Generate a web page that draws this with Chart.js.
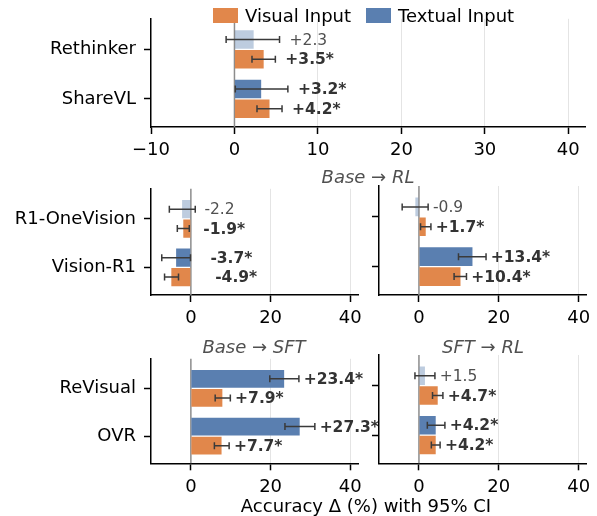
<!DOCTYPE html>
<html>
<head>
<meta charset="utf-8">
<script src="https://cdn.jsdelivr.net/npm/chart.js@4.4.1/dist/chart.umd.min.js"></script>
<style>
  body { margin: 0; background: #fff; }
  #fig { position: relative; width: 597px; height: 516px; overflow: hidden; font-family: "DejaVu Sans", sans-serif; }
  canvas { position: absolute; }
  .txt { position: absolute; white-space: nowrap; line-height: 1; transform: translate(-50%, -50%); font-size: 18px; }
  .ttl { color: #505050; font-style: oblique; }
  .patch { position: absolute; width: 25px; height: 15px; }
  .leg { position: absolute; white-space: nowrap; line-height: 1; font-size: 18px; transform: translateY(-50%); }
</style>
</head>
<body>
<div id="fig">
  <canvas id="cTop" width="597" height="165" style="left:0px;top:0px"></canvas>
  <canvas id="cMidL" width="380" height="165" style="left:0px;top:170px"></canvas>
  <canvas id="cMidR" width="232" height="165" style="left:365px;top:170px"></canvas>
  <canvas id="cBotL" width="380" height="165" style="left:0px;top:340px"></canvas>
  <canvas id="cBotR" width="232" height="165" style="left:365px;top:340px"></canvas>

  <div class="patch" style="left:213px;top:8px;background:#e1874b"></div>
  <div class="leg" style="left:245px;top:16px">Visual Input</div>
  <div class="patch" style="left:366px;top:8px;background:#5a7fb0"></div>
  <div class="leg" style="left:398px;top:16px">Textual Input</div>

  <div class="txt ttl" style="left:368px;top:177px">Base → RL</div>
  <div class="txt ttl" style="left:254px;top:347px">Base → SFT</div>
  <div class="txt ttl" style="left:483px;top:347px">SFT → RL</div>
  <div class="txt" style="left:366px;top:506px">Accuracy Δ (%) with 95% CI</div>
</div>

<script>
// ---------- data ----------
const X_MIN = -10;
const X_MAX = 42;
const topTicks = [-10, 0, 10, 20, 30, 40];
const lowTicks = [0, 20, 40];

// top panel
const topCats = ["Rethinker", "ShareVL"];
const topTextual = [2.3, 3.2];
const topTextualCI = [[-1.0, 5.4], [0.1, 6.4]];
const topTextualSig = [false, true];
const topVisual = [3.5, 4.2];
const topVisualCI = [[2.1, 4.9], [2.7, 5.7]];
const topVisualSig = [true, true];

// Base -> RL, left
const midLCats = ["R1-OneVision", "Vision-R1"];
const midLTextual = [-2.2, -3.7];
const midLTextualCI = [[-5.4, 1.1], [-7.3, -0.1]];
const midLTextualSig = [false, true];
const midLVisual = [-1.9, -4.9];
const midLVisualCI = [[-3.4, -0.4], [-6.6, -3.1]];
const midLVisualSig = [true, true];

// Base -> RL, right
const midRTextual = [-0.9, 13.4];
const midRTextualCI = [[-4.2, 2.3], [9.9, 16.8]];
const midRTextualSig = [false, true];
const midRVisual = [1.7, 10.4];
const midRVisualCI = [[0.4, 3.0], [8.8, 11.9]];
const midRVisualSig = [true, true];

// Base -> SFT
const botCats = ["ReVisual", "OVR"];
const botLTextual = [23.4, 27.3];
const botLTextualCI = [[19.8, 27.1], [23.6, 31.1]];
const botLTextualSig = [true, true];
const botLVisual = [7.9, 7.7];
const botLVisualCI = [[6.1, 9.9], [5.9, 9.6]];
const botLVisualSig = [true, true];

// SFT -> RL
const botRTextual = [1.5, 4.2];
const botRTextualCI = [[-1.0, 4.0], [2.1, 6.5]];
const botRTextualSig = [false, true];
const botRVisual = [4.7, 4.2];
const botRVisualCI = [[3.4, 6.0], [3.1, 5.3]];
const botRVisualSig = [true, true];

// ---------- styles ----------
const ORANGE = "#e1874b";
const BLUE = "#5a7fb0";
const BLUE_LIGHT = "rgba(90,127,176,0.4)";
const FONT = "DejaVu Sans";
Chart.defaults.font.family = FONT;

function fmtVal(v, sig) {
  return (v > 0 ? "+" : "") + v.toFixed(1) + (sig ? "*" : "");
}

// zero line + error bars + value labels
const errPlugin = {
  id: "errbars",
  beforeDatasetsDraw(chart) {
    const xs = chart.scales.x, a = chart.chartArea, ctx = chart.ctx;
    const x0 = xs.getPixelForValue(0);
    ctx.save();
    ctx.strokeStyle = "#8c8c8c";
    ctx.lineWidth = 1.5;
    ctx.beginPath();
    ctx.moveTo(x0, a.top);
    ctx.lineTo(x0, a.bottom);
    ctx.stroke();
    ctx.restore();
  },
  afterDatasetsDraw(chart) {
    const xs = chart.scales.x, ctx = chart.ctx;
    ctx.save();
    chart.data.datasets.forEach((ds, d) => {
      const meta = chart.getDatasetMeta(d);
      meta.data.forEach((el, i) => {
        const [lo, hi] = ds.ci[i];
        const y = el.y;
        const xl = xs.getPixelForValue(lo), xh = xs.getPixelForValue(hi);
        ctx.strokeStyle = "#3a3a3a";
        ctx.lineWidth = 1.5;
        ctx.beginPath();
        ctx.moveTo(xl, y); ctx.lineTo(xh, y);
        ctx.moveTo(xl, y - 3.5); ctx.lineTo(xl, y + 3.5);
        ctx.moveTo(xh, y - 3.5); ctx.lineTo(xh, y + 3.5);
        ctx.stroke();

        const v = ds.vals[i], sig = ds.sig[i];
        const anchor = Math.max(hi, Math.abs(v)) + 1.2;
        ctx.font = (sig ? "bold " : "") + "15.5px '" + FONT + "'";
        ctx.fillStyle = sig ? "#333333" : "#505050";
        ctx.textAlign = "left";
        ctx.textBaseline = "middle";
        ctx.fillText(fmtVal(v, sig), xs.getPixelForValue(anchor), y + 1);
      });
    });
    ctx.restore();
  }
};

function makePanel(id, p) {
  const ctx = document.getElementById(id).getContext("2d");
  const mk = (label, vals, ci, sig, colorOn, colorOff) => ({
    label,
    data: vals.map((v, i) => ({ x: v, y: i })),
    vals, ci, sig,
    backgroundColor: sig.map(s => (s ? colorOn : colorOff)),
    borderWidth: 0,
    categoryPercentage: 0.8,
    barPercentage: 0.935
  });
  return new Chart(ctx, {
    type: "bar",
    data: {
      datasets: [
        mk("Textual Input", p.textual, p.textualCI, p.textualSig, BLUE, BLUE_LIGHT),
        mk("Visual Input", p.visual, p.visualCI, p.visualSig, ORANGE, ORANGE)
      ]
    },
    options: {
      indexAxis: "y",
      responsive: false,
      animation: false,
      events: [],
      layout: { padding: { top: p.padTop, right: p.padRight, left: 0, bottom: 0 } },
      plugins: { legend: { display: false }, tooltip: { enabled: false } },
      scales: {
        x: {
          type: "linear",
          position: "bottom",
          min: X_MIN,
          max: X_MAX,
          afterBuildTicks: s => { s.ticks = p.xTicks.map(v => ({ value: v })); },
          afterFit: s => { s.height = p.xh; },
          ticks: {
            callback: v => (v < 0 ? "\u2212" + Math.abs(v) : String(v)),
            font: { size: 18 },
            color: "#000",
            padding: 6,
            maxRotation: 0,
            autoSkip: false
          },
          grid: {
            color: c => (c.tick && c.tick.value <= 0 ? "rgba(0,0,0,0)" : "#e4e4e4"),
            lineWidth: 1,
            drawTicks: true,
            tickLength: 7,
            tickWidth: 1.5,
            tickColor: "#000"
          },
          border: { display: true, color: "#000", width: 1.5 }
        },
        y: {
          type: "linear",
          reverse: true,
          offset: false,
          min: -0.62,
          max: 1.57,
          afterBuildTicks: s => { s.ticks = p.cats.map((c, i) => ({ value: i })); },
          afterFit: s => { s.width = p.yw; },
          ticks: {
            display: p.showCats,
            callback: v => p.cats[v],
            font: { size: 18 },
            color: "#000",
            padding: 8,
            autoSkip: false
          },
          grid: {
            display: true,
            offset: false,
            drawOnChartArea: false,
            drawTicks: true,
            tickLength: 7,
            tickWidth: 1.5,
            tickColor: "#000"
          },
          border: { display: true, color: "#000", width: 1.5 }
        }
      }
    },
    plugins: [errPlugin]
  });
}

makePanel("cTop", {
  cats: topCats, textual: topTextual, textualCI: topTextualCI, textualSig: topTextualSig,
  visual: topVisual, visualCI: topVisualCI, visualSig: topVisualSig,
  xTicks: topTicks, showCats: true, yw: 151, xh: 38, padTop: 17, padRight: 12
});
makePanel("cMidL", {
  cats: midLCats, textual: midLTextual, textualCI: midLTextualCI, textualSig: midLTextualSig,
  visual: midLVisual, visualCI: midLVisualCI, visualSig: midLVisualSig,
  xTicks: lowTicks, showCats: true, yw: 151, xh: 40, padTop: 16, padRight: 21.7
});
makePanel("cMidR", {
  cats: midLCats, textual: midRTextual, textualCI: midRTextualCI, textualSig: midRTextualSig,
  visual: midRVisual, visualCI: midRVisualCI, visualSig: midRVisualSig,
  xTicks: lowTicks, showCats: false, yw: 14, xh: 40, padTop: 16, padRight: 10.3
});
makePanel("cBotL", {
  cats: botCats, textual: botLTextual, textualCI: botLTextualCI, textualSig: botLTextualSig,
  visual: botLVisual, visualCI: botLVisualCI, visualSig: botLVisualSig,
  xTicks: lowTicks, showCats: true, yw: 151, xh: 41.7, padTop: 15, padRight: 21.7
});
makePanel("cBotR", {
  cats: botCats, textual: botRTextual, textualCI: botRTextualCI, textualSig: botRTextualSig,
  visual: botRVisual, visualCI: botRVisualCI, visualSig: botRVisualSig,
  xTicks: lowTicks, showCats: false, yw: 14, xh: 41.7, padTop: 15, padRight: 10.3
});
</script>
</body>
</html>
